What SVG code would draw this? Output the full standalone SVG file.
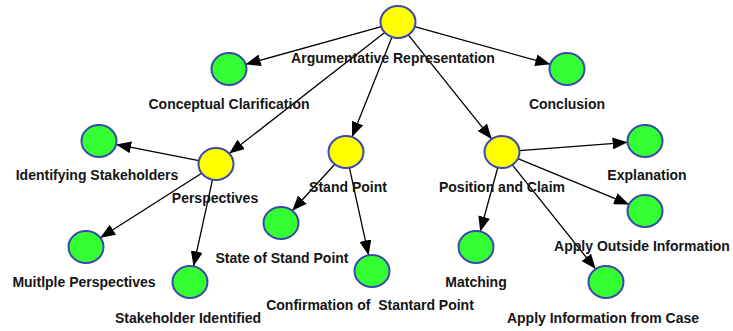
<svg xmlns="http://www.w3.org/2000/svg" width="733" height="331" viewBox="0 0 733 331">
<style>
.n{stroke:#3a4aaa;stroke-width:2}
.y{fill:#ffff00}
.g{fill:#33ff33}
.e{stroke:#000;stroke-width:1.3;fill:none;marker-end:url(#a)}
text{font-family:"Liberation Sans",Arial,sans-serif;font-weight:bold;font-size:14px;fill:#151515;text-anchor:middle}
</style>
<defs>
<marker id="a" markerUnits="userSpaceOnUse" markerWidth="15" markerHeight="12" refX="15" refY="6" orient="auto">
<path d="M0,0 L15,6 L0,12 z" fill="#000"/>
</marker>
</defs>
<rect width="733" height="331" fill="#fff"/>
<g id="connectors">
<line class="e" x1="381.3" y1="26.7" x2="245.7" y2="64.3"/>
<line class="e" x1="414.7" y1="26.7" x2="550.3" y2="64.3"/>
<line class="e" x1="384.7" y1="32.4" x2="229.3" y2="153.6"/>
<line class="e" x1="392" y1="37" x2="352" y2="137"/>
<line class="e" x1="408.3" y1="34.9" x2="491.7" y2="139.1"/>
<line class="e" x1="198.9" y1="160.6" x2="116.1" y2="144.4"/>
<line class="e" x1="201.7" y1="173.2" x2="100.3" y2="237.8"/>
<line class="e" x1="212.5" y1="179.7" x2="193.5" y2="266.3"/>
<line class="e" x1="334.8" y1="164.3" x2="292.2" y2="210.7"/>
<line class="e" x1="349.4" y1="167.7" x2="368.6" y2="255.3"/>
<line class="e" x1="519.4" y1="150.7" x2="627.6" y2="142.3"/>
<line class="e" x1="517.9" y1="158.6" x2="629.1" y2="204.4"/>
<line class="e" x1="497.8" y1="167.5" x2="480.2" y2="231.5"/>
<line class="e" x1="512.3" y1="164.9" x2="595.7" y2="269.1"/>
</g>
<g id="root"><ellipse class="n y" cx="398" cy="22" rx="17.5" ry="16"/><text x="393" y="63">Argumentative Representation</text></g>
<g id="conceptual"><ellipse class="n g" cx="229" cy="69" rx="17.5" ry="16"/><text x="229" y="109">Conceptual Clarification</text></g>
<g id="conclusion"><ellipse class="n g" cx="567" cy="69" rx="17.5" ry="16"/><text x="567" y="109">Conclusion</text></g>
<g id="perspectives"><ellipse class="n y" cx="216" cy="164" rx="17.5" ry="16"/><text x="215" y="203">Perspectives</text></g>
<g id="standpoint"><ellipse class="n y" cx="346" cy="152" rx="17.5" ry="16"/><text x="348" y="192">Stand Point</text></g>
<g id="position"><ellipse class="n y" cx="502" cy="152" rx="17.5" ry="16"/><text x="502" y="192">Position and Claim</text></g>
<g id="identifying"><ellipse class="n g" cx="99" cy="141" rx="17.5" ry="16"/><text x="97" y="180">Identifying Stakeholders</text></g>
<g id="multiple"><ellipse class="n g" cx="86" cy="247" rx="17.5" ry="16"/><text x="84" y="287">Muitlple Perspectives</text></g>
<g id="stakeholder"><ellipse class="n g" cx="190" cy="282" rx="17.5" ry="16"/><text x="188" y="323">Stakeholder Identified</text></g>
<g id="statesp"><ellipse class="n g" cx="281" cy="223" rx="17.5" ry="16"/><text x="282" y="263">State of Stand Point</text></g>
<g id="confirmation"><ellipse class="n g" cx="372" cy="271" rx="17.5" ry="16"/><text x="370" y="310" xml:space="preserve">Confirmation of  Stantard Point</text></g>
<g id="explanation"><ellipse class="n g" cx="645" cy="141" rx="17.5" ry="16"/><text x="647" y="180">Explanation</text></g>
<g id="outside"><ellipse class="n g" cx="645" cy="211" rx="17.5" ry="16"/><text x="642" y="251">Apply Outside Information</text></g>
<g id="matching"><ellipse class="n g" cx="476" cy="247" rx="17.5" ry="16"/><text x="476" y="287">Matching</text></g>
<g id="case"><ellipse class="n g" cx="606" cy="282" rx="17.5" ry="16"/><text x="603" y="323">Apply Information from Case</text></g>
</svg>
